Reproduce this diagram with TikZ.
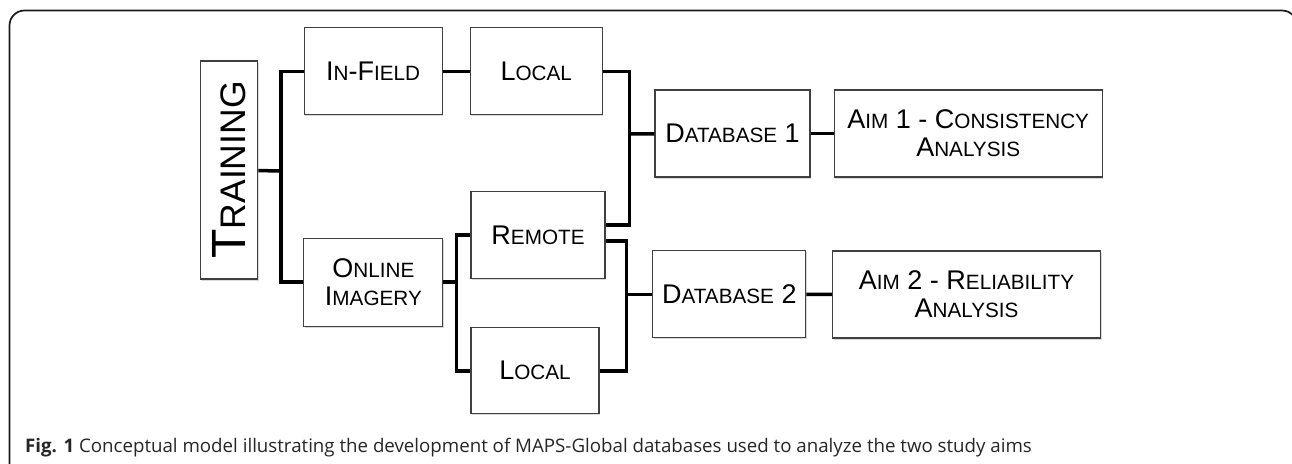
\documentclass[tikz,border=0pt]{standalone}
\usepackage{fontspec}
\setmainfont{Liberation Sans}
\newfontfamily\captionfont{Open Sans}
\usepackage{tikz}
\usetikzlibrary{positioning}
\usetikzlibrary{shadows}

% lower letters of the small caps labels
\newcommand{\lc}[1]{{\fontsize{20.7}{28}\selectfont #1}}
\newcommand{\biglc}[1]{{\fontsize{35.5}{40}\selectfont #1}}

\begin{document}
\begin{tikzpicture}[x=1pt,y=1pt,
        box/.style={draw=black!75, line width=1.1pt, fill=white, inner sep=0pt, align=center,
            font=\fontsize{27}{28}\selectfont,
            drop shadow={shadow xshift=1.2pt, shadow yshift=-1.5pt, opacity=0.3}},
        link/.style={line width=3.5pt, line join=miter}]
        \useasboundingbox (0,0) rectangle (1292,-463);
        \draw[line width=1.7pt, black!90, rounded corners=15pt] (9.5,-520) -- (9.5,-10.5) -- (1297,-10.5) -- (1297,-520);

        \node[box, minimum width=218pt, minimum height=57pt, rotate=90, font=\fontsize{48}{50}\selectfont] (train) at (229.4,-170) {T\biglc{RAINING}};
        \node[box, minimum width=138pt, minimum height=87pt] (infield) at (373.2,-71.3) {I\lc{N}-F\lc{IELD}};
        \node[box, minimum width=139pt, minimum height=88pt] (online) at (373.4,-282.2) {O\lc{NLINE}\\I\lc{MAGERY}};
        \node[box, minimum width=132pt, minimum height=87pt] (local1) at (536.2,-71.3) {L\lc{OCAL}};
        \node[box, minimum width=134pt, minimum height=87pt] (remote) at (538,-235.2) {R\lc{EMOTE}};
        \node[box, minimum width=128pt, minimum height=86pt] (local2) at (535,-370.8) {L\lc{OCAL}};
        \node[box, minimum width=155pt, minimum height=87pt] (db1) at (732.5,-133.5) {D\lc{ATABASE} 1};
        \node[box, minimum width=153pt, minimum height=87pt] (db2) at (729.3,-294.3) {D\lc{ATABASE} 2};
        \node[box, minimum width=268pt, minimum height=87pt] (aim1) at (968.2,-133.5) {A\lc{IM} 1 - C\lc{ONSISTENCY}\\A\lc{NALYSIS}};
        \node[box, minimum width=268pt, minimum height=87pt] (aim2) at (966.5,-294.5) {A\lc{IM} 2 - R\lc{ELIABILITY}\\A\lc{NALYSIS}};

        % junctions of the bracket lines
        \coordinate (j1) at (281,-171);
        \coordinate (j2) at (629.5,-134);
        \coordinate (j3) at (456.7,-282.2);
        \coordinate (j4) at (626.7,-294.3);

        \draw[link] (train) -- (j1);
        \draw[link] (infield.west) -| (j1) |- (online.west);
        \draw[link] (infield) -- (local1);
        \draw[link] (online) -- (j3);
        \draw[link] (remote.west) -| (j3) |- (local2.west);
        \draw[link] (local1.east) -| (j2) |- ([yshift=10pt]remote.east);
        \draw[link] ([yshift=-6pt]remote.east) -| (j4) |- (local2.east);
        \draw[link] (j2) -- (db1);
        \draw[link] (j4) -- (db2);
        \draw[link] (db1) -- (aim1);
        \draw[link] (db2) -- (aim2);

        \node[anchor=base west, inner sep=0pt, text=black!85, font=\captionfont\fontsize{18.7}{22}\selectfont] (caption) at (25,-452) {\textbf{Fig. 1} Conceptual model illustrating the development of MAPS-Global databases used to analyze the two study aims};
    \end{tikzpicture}
\end{document}
